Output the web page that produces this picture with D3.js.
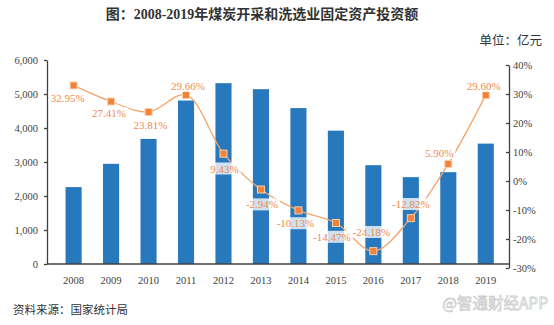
<!DOCTYPE html>
<html>
<head>
<meta charset="utf-8">
<script src="https://cdn.jsdelivr.net/npm/d3@7"></script>
<style>
  body { margin: 0; background: #fff; }
  svg { display: block; }
  .axis path, .axis line { stroke: #404040; stroke-width: 1.3; }
  .axis text { font-family: "Liberation Serif", serif; font-size: 10.5px; fill: #404040; }
  .rate-label { font-family: "Liberation Serif", serif; font-size: 11px; fill: #F08A4B; }
</style>
</head>
<body>
<svg id="chart" width="554" height="325"></svg>
<script>
// data
var years = ["2008", "2009", "2010", "2011", "2012", "2013", "2014", "2015", "2016", "2017", "2018", "2019"]
var investment = [2262, 2947, 3679, 4808, 5318, 5142, 4586, 3922, 2906, 2555, 2701, 3541]
var growth = [32.95, 27.41, 23.81, 29.66, 9.43, -2.94, -10.13, -14.47, -24.18, -12.82, 5.90, 29.60]
var leftTicks = [0, 1000, 2000, 3000, 4000, 5000, 6000]
var rightTicks = [-30, -20, -10, 0, 10, 20, 30, 40]

// where each rate label sits relative to its marker
var labelOffset = [[-6, 13], [-2, 12], [2, 13], [2, -9], [1, 15], [1, 15], [-3, 13], [-4, 14], [-2, -19], [0, -14], [-9, -11], [-2, -9]]

var svg = d3.select("#chart")

var x = d3.scaleBand().domain(years).range([47, 509])
  .paddingInner(0.57).paddingOuter(0.45).align(0.55)
var yLeft = d3.scaleLinear().domain([0, 6000]).range([264, 60])
var yRight = d3.scaleLinear().domain([-30, 40]).range([268, 65])

// title + unit
svg.append("text")
  .attr("x", 262).attr("y", 19)
  .attr("text-anchor", "middle")
  .style("font-family", "'Liberation Serif', 'Noto Sans CJK SC', serif")
  .style("font-size", "14px").style("font-weight", "bold").style("fill", "#333")
  .text("图：2008-2019年煤炭开采和洗选业固定资产投资额")

svg.append("text")
  .attr("x", 542).attr("y", 45)
  .attr("text-anchor", "end")
  .style("font-family", "'Noto Sans CJK SC', sans-serif")
  .style("font-size", "12.5px").style("fill", "#333")
  .text("单位：亿元")

// bars
svg.selectAll(".bar").data(investment).enter().append("rect")
  .attr("class", "bar")
  .attr("x", function (d, i) { return x(years[i]) })
  .attr("y", function (d) { return yLeft(d) })
  .attr("width", x.bandwidth())
  .attr("height", function (d) { return yLeft(0) - yLeft(d) })
  .attr("fill", "#2878BD")

// axes
var gLeft = svg.append("g").attr("class", "axis")
  .attr("transform", "translate(47,0)")
  .call(d3.axisLeft(yLeft).tickValues(leftTicks).tickSize(3).tickSizeOuter(0).tickPadding(6)
    .tickFormat(d3.format(",")))

var gRight = svg.append("g").attr("class", "axis")
  .attr("transform", "translate(509,0)")
  .call(d3.axisRight(yRight).tickValues(rightTicks).tickSize(-3).tickSizeOuter(0).tickPadding(5)
    .tickFormat(function (d) { return d + "%" }))
gRight.selectAll(".tick text").attr("x", 4)

var gBottom = svg.append("g").attr("class", "axis")
  .attr("transform", "translate(0,264)")
  .call(d3.axisBottom(x).tickSize(0).tickPadding(13))
gBottom.select(".domain").attr("d", "M47,0H509")

// growth line
var pts = growth.map(function (d, i) { return [x(years[i]) + x.bandwidth() / 2, yRight(d)] })

var line = d3.line().curve(d3.curveCatmullRom.alpha(0.5))
svg.append("path")
  .attr("d", line(pts))
  .attr("fill", "none")
  .attr("stroke", "#F5A56A")
  .attr("stroke-width", 1.3)

svg.selectAll(".marker").data(pts).enter().append("rect")
  .attr("class", "marker")
  .attr("x", function (d) { return d[0] - 3.5 })
  .attr("y", function (d) { return d[1] - 3.5 })
  .attr("width", 7).attr("height", 7)
  .attr("fill", "#F0823A")
  .attr("stroke", "#FBD0AE")
  .attr("stroke-width", 1)

// rate labels with a pale box behind them
var labels = svg.selectAll(".lbl").data(growth).enter().append("g").attr("class", "lbl")
  .attr("transform", function (d, i) {
    return "translate(" + (pts[i][0] + labelOffset[i][0]) + "," + (pts[i][1] + labelOffset[i][1]) + ")"
  })
labels.append("rect")
  .attr("fill", "#fff").attr("fill-opacity", 0.78)
labels.append("text")
  .attr("class", "rate-label")
  .attr("text-anchor", "middle")
  .attr("dy", "0.35em")
  .text(function (d) { return d.toFixed(2) + "%" })
labels.each(function () {
  var bb = d3.select(this).select("text").node().getBBox()
  d3.select(this).select("rect")
    .attr("x", bb.x - 2).attr("y", bb.y).attr("width", bb.width + 4).attr("height", bb.height)
})

// footer
svg.append("text")
  .attr("x", 13).attr("y", 314)
  .style("font-family", "'Noto Sans CJK SC', sans-serif")
  .style("font-size", "11.5px").style("fill", "#333")
  .text("资料来源：国家统计局")

svg.append("text")
  .attr("x", 548).attr("y", 309)
  .attr("text-anchor", "end")
  .style("font-family", "'Noto Sans CJK SC', sans-serif")
  .style("font-size", "15.5px")
  .style("fill", "#fff").style("stroke", "#CFCFCF").style("stroke-width", 0.8)
  .text("@智通财经APP")
</script>
</body>
</html>
